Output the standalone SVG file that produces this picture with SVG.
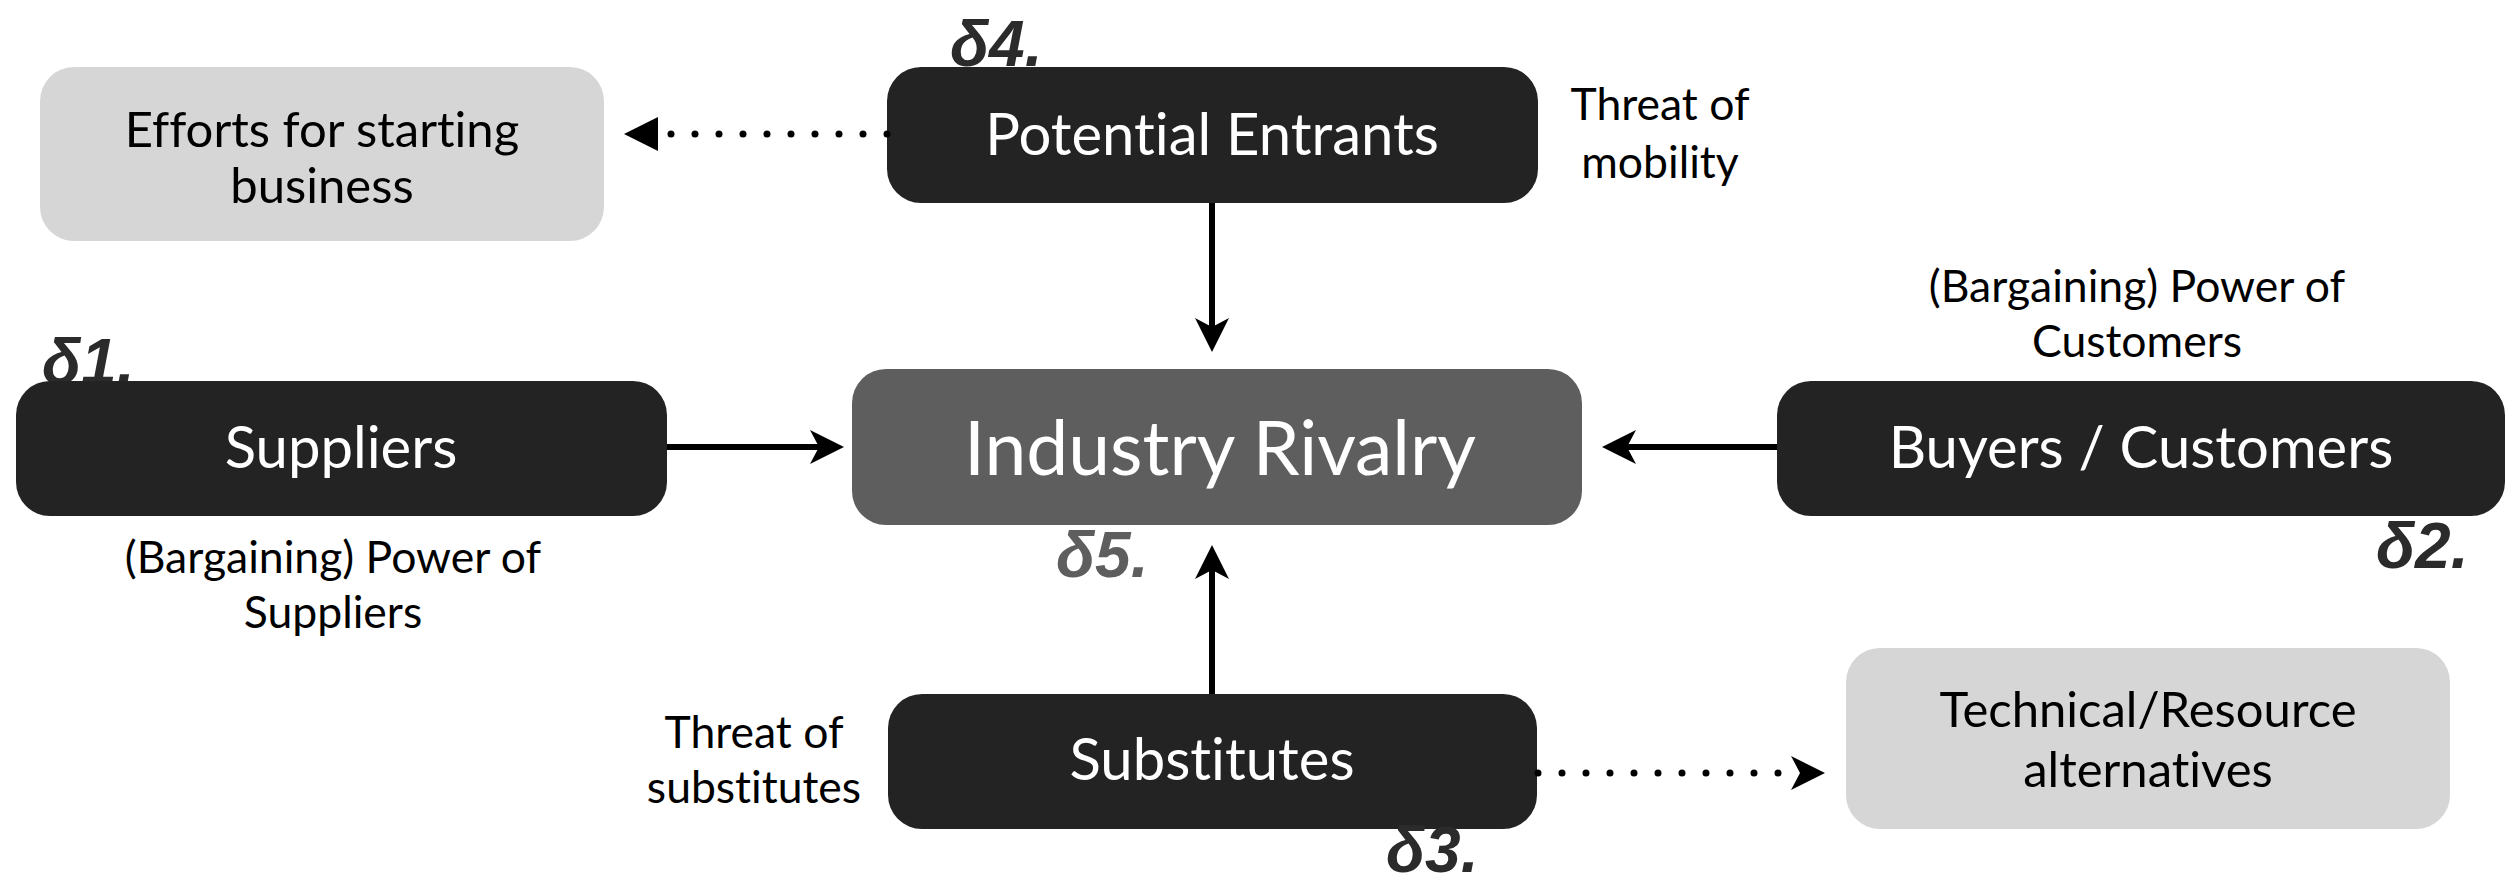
<svg xmlns="http://www.w3.org/2000/svg" width="2519" height="881" viewBox="0 0 2519 881">
<style>
.bg{fill:#ffffff}
.dark{fill:#232323}
.mid{fill:#5e5e5e}
.light{fill:#d6d6d6}
text{font-variant-ligatures:none;font-feature-settings:"liga" 0,"clig" 0}
.nt{font-family:Lato,"Open Sans",sans-serif;font-size:58px;fill:#ffffff;text-anchor:middle}
.big{font-family:Lato,"Open Sans",sans-serif;font-size:75px;fill:#ffffff;text-anchor:middle}
.lt{font-family:Lato,"Open Sans",sans-serif;font-size:49px;fill:#000000;text-anchor:middle}
.side{font-family:Lato,"Open Sans",sans-serif;font-size:44.5px;fill:#000000;text-anchor:middle}
.delta{font-family:"Liberation Sans",Arial,sans-serif;font-size:64px;font-weight:bold;font-style:italic;fill:#2b2b2b}
.line{fill:none;stroke:#000;stroke-width:6}
.dots{fill:none;stroke:#000;stroke-width:7;stroke-linecap:round;stroke-dasharray:0 24}
</style>
<defs>
<marker id="stealth" markerUnits="userSpaceOnUse" viewBox="0 0 34 34" refX="9" refY="17" markerWidth="34" markerHeight="34" orient="auto">
<path d="M0,0 L34,17 L0,34 L9,17 Z" fill="#000"/>
</marker>
<marker id="tri" markerUnits="userSpaceOnUse" viewBox="0 0 34 34" refX="0" refY="17" markerWidth="34" markerHeight="34" orient="auto">
<path d="M0,0 L34,17 L0,34 Z" fill="#000"/>
</marker>
</defs>
<rect class="bg" x="0" y="0" width="2519" height="881"/>

<g id="efforts">
<rect class="light" x="40" y="67" width="564" height="174" rx="34"/>
<text class="lt" x="322" y="147">Efforts for starting</text>
<text class="lt" x="322" y="203">business</text>
</g>

<g id="potential-entrants">
<text class="delta" x="950" y="66">δ4.</text>
<rect class="dark" x="887" y="67" width="651" height="136" rx="34"/>
<text class="nt" x="1212" y="155">Potential Entrants</text>
</g>

<g id="threat-mobility">
<text class="side" x="1660" y="120">Threat of</text>
<text class="side" x="1660" y="178">mobility</text>
</g>

<g id="suppliers">
<text class="delta" x="42" y="384">δ1.</text>
<rect class="dark" x="16" y="381" width="651" height="135" rx="34"/>
<text class="nt" x="341" y="468">Suppliers</text>
</g>

<g id="power-suppliers">
<text class="side" x="333" y="573">(Bargaining) Power of</text>
<text class="side" x="333" y="628">Suppliers</text>
</g>

<g id="industry-rivalry">
<rect class="mid" x="852" y="369" width="730" height="156" rx="34"/>
<text class="big" x="1220" y="475">Industry Rivalry</text>
<text class="delta" x="1056" y="577" style="fill:#5e5e5e">δ5.</text>
</g>

<g id="buyers">
<rect class="dark" x="1777" y="381" width="728" height="135" rx="34"/>
<text class="nt" x="2141" y="468">Buyers / Customers</text>
<text class="delta" x="2376" y="568">δ2.</text>
</g>

<g id="power-customers">
<text class="side" x="2137" y="302">(Bargaining) Power of</text>
<text class="side" x="2137" y="357">Customers</text>
</g>

<g id="substitutes">
<rect class="dark" x="888" y="694" width="649" height="135" rx="34"/>
<text class="nt" x="1212" y="780">Substitutes</text>
<text class="delta" x="1386" y="872">δ3.</text>
</g>

<g id="threat-substitutes">
<text class="side" x="754" y="748">Threat of</text>
<text class="side" x="754" y="803">substitutes</text>
</g>

<g id="technical">
<rect class="light" x="1846" y="648" width="604" height="181" rx="34"/>
<text class="lt" x="2148" y="727">Technical/Resource</text>
<text class="lt" x="2148" y="787">alternatives</text>
</g>

<g id="connectors">
<path class="line" d="M1212,203 V327" marker-end="url(#stealth)"/>
<path class="line" d="M1212,694 V570" marker-end="url(#stealth)"/>
<path class="line" d="M667,447 H819" marker-end="url(#stealth)"/>
<path class="line" d="M1777,447 H1627" marker-end="url(#stealth)"/>
<path class="dots" d="M887,134 H658" marker-end="url(#tri)"/>
<path class="dots" d="M1538,773 H1800" marker-end="url(#stealth)"/>
</g>
</svg>
